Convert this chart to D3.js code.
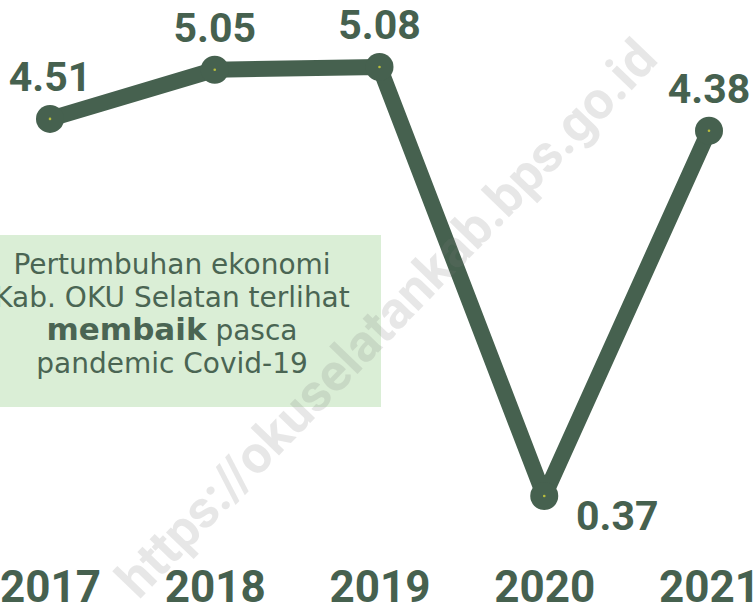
<!DOCTYPE html>
<html>
<head>
<meta charset="utf-8">
<script src="https://cdn.jsdelivr.net/npm/d3@7"></script>
<style>
html,body{margin:0;padding:0;background:#fff;overflow:hidden;}
svg{display:block;}
</style>
</head>
<body>
<svg id="chart" width="756" height="609"></svg>
<script>
const years = ["2017","2018","2019","2020","2021"];
const growth = [4.51, 5.05, 5.08, 0.37, 4.38];
const valueLabels = ["4.51","5.05","5.08","0.37","4.38"];
const noteLines = [
  [{t:"Pertumbuhan ekonomi", b:false}],
  [{t:"Kab. OKU Selatan terlihat", b:false}],
  [{t:"membaik", b:true},{t:" pasca", b:false}],
  [{t:"pandemic Covid-19", b:false}]
];
const watermark = "https://okuselatankab.bps.go.id";

const W = 756, H = 609;
const dark = "#46614f";
const svg = d3.select("#chart");

const x = d3.scalePoint().domain(years).range([50, 709]);
const y = d3.scaleLinear().domain([0.37, 5.08]).range([496, 67]);

const data = years.map((yr,i)=>({yr, v:growth[i], lab:valueLabels[i]}));

// note box
const box = svg.append("g");
box.append("rect").attr("x",-10).attr("y",235).attr("width",391).attr("height",172).attr("fill","#daeed6");
const noteFont = "'DejaVu Sans', sans-serif";
const baselines = [274, 307, 340, 373];
noteLines.forEach((segs,i)=>{
  const t = box.append("text")
    .attr("x",172).attr("y",baselines[i])
    .attr("text-anchor","middle")
    .attr("font-family",noteFont)
    .attr("font-size",28)
    .attr("fill","#4a6553");
  segs.forEach(s=>{
    t.append("tspan").text(s.t)
      .attr("font-weight", s.b?700:400)
      .attr("font-size", s.b?31:28);
  });
});

// line
const line = d3.line().x(d=>x(d.yr)).y(d=>y(d.v));
svg.append("path").datum(data)
  .attr("d", line)
  .attr("fill","none")
  .attr("stroke",dark)
  .attr("stroke-width",16)
  .attr("stroke-linejoin","round");

svg.selectAll("circle.m").data(data).enter().append("circle")
  .attr("class","m")
  .attr("cx",d=>x(d.yr)).attr("cy",d=>y(d.v)).attr("r",14)
  .attr("fill",dark);
svg.selectAll("circle.c").data(data).enter().append("circle")
  .attr("class","c")
  .attr("cx",d=>x(d.yr)).attr("cy",d=>y(d.v)).attr("r",1.3)
  .attr("fill","#b8bd3c");

// value labels
svg.selectAll("text.val").data(data).enter().append("text")
  .attr("class","val")
  .attr("x",d=> d.v < 1 ? x(d.yr)+73 : x(d.yr))
  .attr("y",d=> d.v < 1 ? y(d.v)+34 : y(d.v)-28)
  .attr("text-anchor","middle")
  .attr("font-family","Roboto, sans-serif")
  .attr("font-weight",700)
  .attr("font-size",41)
  .attr("fill",dark)
  .text(d=>d.lab);

// x axis labels
const xAxis = d3.axisBottom(x).tickSize(0).tickPadding(0);
const ax = svg.append("g").attr("transform","translate(0,571)").call(xAxis);
ax.select(".domain").remove();
ax.selectAll("text")
  .attr("font-family","Roboto, sans-serif")
  .attr("font-weight",700)
  .attr("font-size",44)
  .attr("fill",dark)
  .attr("dy","0.71em");

// watermark
const wm = svg.append("text")
  .attr("transform","translate(386,318) rotate(-46)")
  .attr("text-anchor","middle")
  .attr("dy","0.35em")
  .attr("font-family","Roboto, sans-serif")
  .attr("font-weight",700)
  .attr("font-size",40)
  .attr("fill","#7a7a7a")
  .attr("fill-opacity",0.18)
  .text(watermark);
const len = wm.node().getComputedTextLength();
wm.attr("font-size", 40*750/len);
</script>
</body>
</html>
